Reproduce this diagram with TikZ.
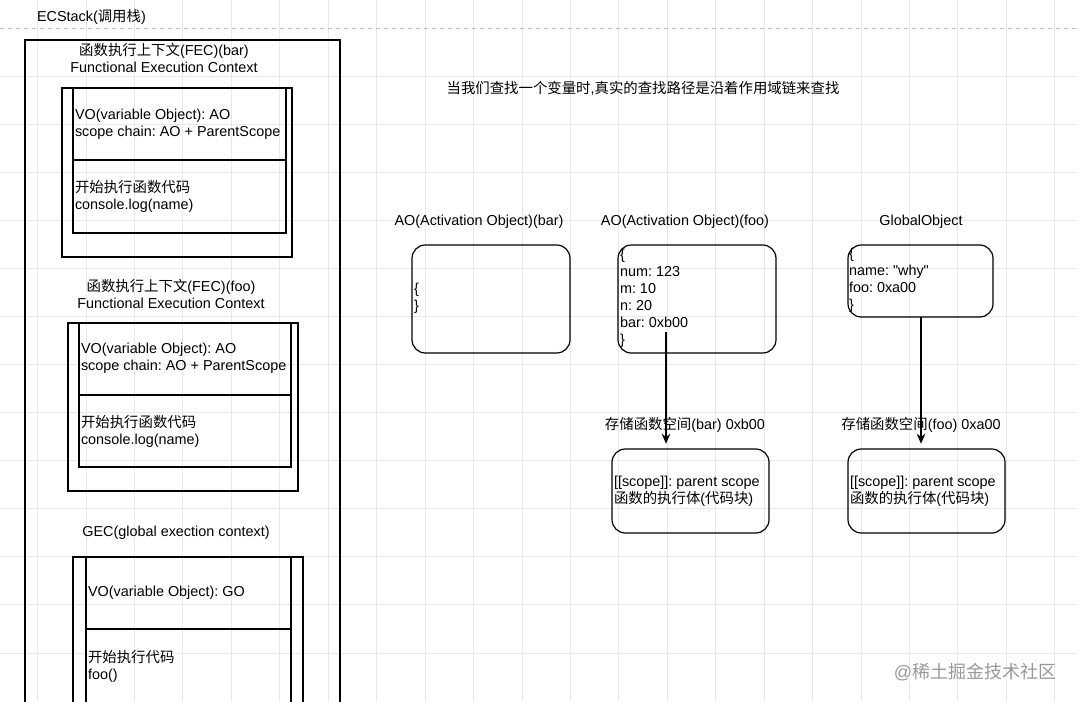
\documentclass[tikz,border=0pt]{standalone}
\usepackage{fontspec}
\setmainfont{Liberation Sans}
\newfontfamily\cjk{Noto Sans CJK SC}
\usetikzlibrary{arrows.meta,fit}
\newcommand\zh[1]{{\cjk #1}}
\frenchspacing
\begin{document}
\begin{tikzpicture}[x=0.75pt,y=-0.75pt,
  every node/.style={inner sep=0pt,outer sep=0pt},
  txt/.style={font=\fontsize{10.8pt}{12.75pt}\selectfont, align=left, anchor=west},
  ctxt/.style={font=\fontsize{10.8pt}{12.75pt}\selectfont, align=center},
  box/.style={draw=black, line width=0.9pt, inner sep=0pt},
  rbox/.style={box, rounded corners=10pt},
  arr/.style={draw, line width=0.9pt, -{Stealth[length=7.5pt,width=6.5pt,inset=2.5pt]}, shorten >=4pt},
  gridline/.style={draw=black!9, line width=0.75pt}]
\useasboundingbox (0,0) rectangle (1077,701);
\fill[white] (0,0) rectangle (1077,701);
\clip (0,0) rectangle (1077,701);
% grid
\foreach \i in {0,...,21} \draw[gridline] ({37.7+48.43*\i},0) -- ++(0,701);
\foreach \j in {1,...,13} \draw[gridline] (0,{28+48.08*\j}) -- ++(1077,0);
\draw[black!25, dashed, line width=0.75pt] (0,28) -- (1077,28);

% ECStack
\node[txt] (ecstack) at (37,17) {ECStack(\zh{调用栈})};
\node[box, fit={(25,40) (340,720)}] (stack) {};

% FEC bar
\node[ctxt] (fecbarT) at (164,58) {\zh{函数执行上下文}(FEC)(bar)\\Functional Execution Context};
\node[box, fit={(62,88) (292,257)}] (barOuter) {};
\node[box, fit={(73,88) (286,233)}] (barInner) {};
\coordinate (d1) at (0,160);
\draw[line width=0.9pt] (barInner.west |- d1) -- (barInner.east |- d1);
\node[txt] (barVO) at (75,124.5) {VO(variable Object): AO\\scope chain: AO + ParentScope};
\node[txt] (barCode) at (75,196) {\zh{开始执行函数代码}\\console.log(name)};

% FEC foo
\node[ctxt] (fecfooT) at (171,293.5) {\zh{函数执行上下文}(FEC)(foo)\\Functional Execution Context};
\node[box, fit={(68,323) (298,491)}] (fooOuter) {};
\node[box, fit={(79,323) (291,467)}] (fooInner) {};
\coordinate (d2) at (0,395);
\draw[line width=0.9pt] (fooInner.west |- d2) -- (fooInner.east |- d2);
\node[txt] (fooVO) at (81,358.5) {VO(variable Object): AO\\scope chain: AO + ParentScope};
\node[txt] (fooCode) at (81,431) {\zh{开始执行函数代码}\\console.log(name)};

% GEC
\node[ctxt] (gecT) at (176,533) {GEC(global exection context)};
\node[box, fit={(73,557) (303,720)}] (gecOuter) {};
\node[box, fit={(86,557) (291,720)}] (gecInner) {};
\coordinate (d3) at (0,629);
\draw[line width=0.9pt] (gecInner.west |- d3) -- (gecInner.east |- d3);
\node[txt] (gecVO) at (88,593) {VO(variable Object): GO};
\node[txt] (gecCode) at (88,666) {\zh{开始执行代码}\\foo()};

% note
\node[ctxt] (note) at (643,88) {\zh{当我们查找一个变量时},\zh{真实的查找路径是沿着作用域链来查找}};

% AO bar
\node[ctxt] (aobarT) at (479,222) {AO(Activation Object)(bar)};
\node[rbox, fit={(412,245) (570,353)}] (aobar) {};
\node[txt] (aobarTx) at (414,298.5) {\{\\\}};

% AO foo
\node[ctxt] (aofooT) at (685,222) {AO(Activation Object)(foo)};
\node[rbox, fit={(618,245) (776,353)}] (aofoo) {};
\node[txt] (aofooTx) at (620,298.5) {\{\\num: 123\\m: 10\\n: 20\\bar: 0xb00\\\}};

% Global object
\node[ctxt] (goT) at (921,222) {GlobalObject};
\node[rbox, fit={(848,245) (993,317)}] (go) {};
\node[txt] (goTx) at (849,280.5) {\{\\name: \textquotedbl why\textquotedbl\\foo: 0xa00\\\}};

% storage bar
\node[ctxt] (storebarT) at (685,425) {\zh{存储函数空间}(bar) 0xb00};
\node[rbox, fit={(612,449) (769,533)}] (storebar) {};
\node[txt] (storebarTx) at (614,491.5) {[[scope]]: parent scope\\\zh{函数的执行体}(\zh{代码块})};

% storage foo
\node[ctxt] (storefooT) at (921,425) {\zh{存储函数空间}(foo) 0xa00};
\node[rbox, fit={(848,449) (1005,533)}] (storefoo) {};
\node[txt] (storefooTx) at (850,491.5) {[[scope]]: parent scope\\\zh{函数的执行体}(\zh{代码块})};

% arrows
\coordinate (barptr) at (666,332);
\draw[arr] (barptr) -- (barptr |- storebar.north);
\coordinate (fooptr) at (921,317);
\draw[arr] (fooptr) -- (fooptr |- storefoo.north);

% watermark
\node[font=\fontsize{13.5pt}{16pt}\selectfont, text=black!40] (wm) at (975,672) {@\zh{稀土掘金技术社区}};
\end{tikzpicture}
\end{document}
